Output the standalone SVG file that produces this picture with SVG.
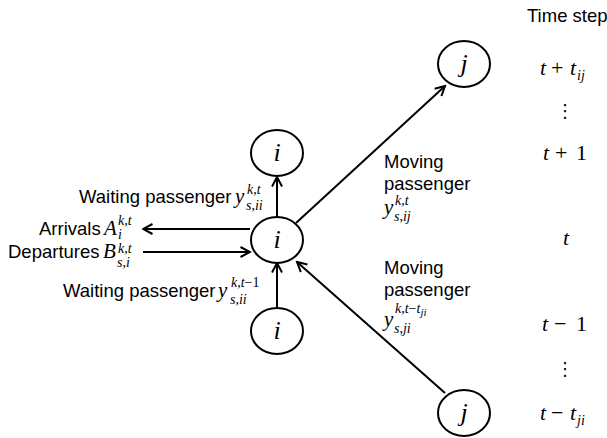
<svg xmlns="http://www.w3.org/2000/svg" width="607" height="438" viewBox="0 0 607 438">
<style>
.node ellipse{fill:#fff;stroke:#000;stroke-width:2}
.nl{font-family:"Liberation Serif",serif;font-style:italic;font-size:26px;text-anchor:middle;fill:#000}
.lbl{font-family:"Liberation Sans",Arial,sans-serif;font-size:18.5px;fill:#000}
.m{font-family:"Liberation Serif",serif;font-style:italic;font-size:21px;fill:#000}
.tm{font-family:"Liberation Serif",serif;font-style:italic;font-size:22px;fill:#000}
.s{font-family:"Liberation Serif",serif;font-style:italic;font-size:14px;fill:#000}
.ss{font-family:"Liberation Serif",serif;font-style:italic;font-size:11px;fill:#000}
.up{font-style:normal}
.conn line{stroke:#000;stroke-width:2;fill:none;marker-end:url(#ah)}
.dots{font-family:"DejaVu Sans",sans-serif;font-size:18px;text-anchor:middle;fill:#000}
</style>
<defs>
<marker id="ah" markerUnits="userSpaceOnUse" viewBox="0 0 12 12" markerWidth="12" markerHeight="12" refX="10.5" refY="6" orient="auto">
<path d="M1,1 L10.5,6 L1,11" fill="none" stroke="#000" stroke-width="2"/>
</marker>
</defs>
<rect width="607" height="438" fill="#fff"/>

<g id="connectors" class="conn">
<line x1="277" y1="217" x2="277" y2="177"/>
<line x1="277" y1="308" x2="277" y2="263"/>
<line x1="250" y1="229" x2="143" y2="229"/>
<line x1="143" y1="252" x2="250" y2="252"/>
<line x1="296" y1="223" x2="445" y2="86"/>
<line x1="445" y1="393" x2="297" y2="262"/>
</g>

<g id="node-i-top" class="node"><ellipse cx="277" cy="153" rx="26" ry="23"/><text class="nl" x="277" y="161">i</text></g>
<g id="node-i-mid" class="node"><ellipse cx="277" cy="240" rx="26" ry="23"/><text class="nl" x="277" y="248">i</text></g>
<g id="node-i-bot" class="node"><ellipse cx="277" cy="331" rx="26" ry="23"/><text class="nl" x="277" y="339">i</text></g>
<g id="node-j-top" class="node"><ellipse cx="464" cy="64" rx="26" ry="23"/><text class="nl" x="464" y="72">j</text></g>
<g id="node-j-bot" class="node"><ellipse cx="464" cy="413" rx="26" ry="23"/><text class="nl" x="464" y="421">j</text></g>

<g id="labels">
<text class="lbl" x="79" y="203">Waiting passenger</text>
<text class="m" x="235" y="203">y</text>
<text class="s" x="247" y="194">k<tspan class="up">,</tspan>t</text>
<text class="s" x="246" y="210">s<tspan class="up">,</tspan>ii</text>

<text class="lbl" x="39" y="235">Arrivals</text>
<text class="m" x="104" y="235">A</text>
<text class="s" x="118" y="225">k<tspan class="up">,</tspan>t</text>
<text class="s" x="118" y="239" font-size="11">i</text>

<text class="lbl" x="8" y="258">Departures</text>
<text class="m" x="103" y="258">B</text>
<text class="s" x="118" y="253" font-size="12">k<tspan class="up">,</tspan>t</text>
<text class="s" x="117" y="267">s<tspan class="up">,</tspan>i</text>

<text class="lbl" x="63" y="297">Waiting passenger</text>
<text class="m" x="218" y="297">y</text>
<text class="s" x="231" y="287">k<tspan class="up">,</tspan>t<tspan class="up">−1</tspan></text>
<text class="s" x="230" y="304">s<tspan class="up">,</tspan>ii</text>

<text class="lbl" x="384" y="168">Moving</text>
<text class="lbl" x="384" y="190">passenger</text>
<text class="m" x="384" y="214">y</text>
<text class="s" x="395" y="205">k<tspan class="up">,</tspan>t</text>
<text class="s" x="394" y="221">s<tspan class="up">,</tspan>ij</text>

<text class="lbl" x="384" y="274">Moving</text>
<text class="lbl" x="384" y="296">passenger</text>
<text class="m" x="384" y="326">y</text>
<text class="s" x="395" y="313">k<tspan class="up">,</tspan>t<tspan class="up">−</tspan>t<tspan class="ss" dy="3">ji</tspan></text>
<text class="s" x="394" y="333">s<tspan class="up">,</tspan>ji</text>
</g>

<g id="timesteps">
<text class="lbl" x="527" y="22">Time step</text>
<text class="tm" x="540" y="75">t<tspan class="up" x="551">+</tspan><tspan x="570">t</tspan><tspan class="s" x="577" dy="5">ij</tspan></text>
<text class="dots" x="565" y="117">⋮</text>
<text class="tm" x="543" y="160">t<tspan class="up" x="555">+</tspan><tspan class="up" x="576">1</tspan></text>
<text class="tm" x="563" y="245">t</text>
<text class="tm" x="542" y="331">t<tspan class="up" x="554">−</tspan><tspan class="up" x="576">1</tspan></text>
<text class="dots" x="565" y="375">⋮</text>
<text class="tm" x="540" y="420">t<tspan class="up" x="551">−</tspan><tspan x="570">t</tspan><tspan class="s" x="577" dy="5">ji</tspan></text>
</g>
</svg>
